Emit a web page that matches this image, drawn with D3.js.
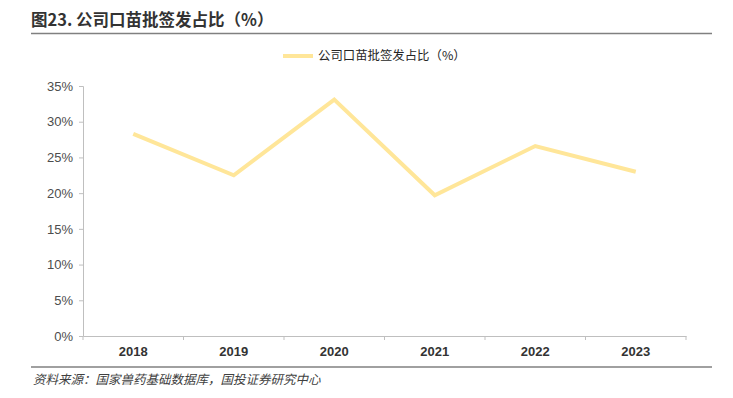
<!DOCTYPE html>
<html>
<head>
<meta charset="utf-8">
<script src="https://cdn.jsdelivr.net/npm/d3@7"></script>
<style>
  body { margin: 0; background: #fff; }
  svg { display: block; font-family: "Liberation Sans", Arial, sans-serif; }
</style>
</head>
<body>
<svg id="chart"></svg>
<script>
// data
const years = ["2018", "2019", "2020", "2021", "2022", "2023"];
const ratio = [28.3, 22.5, 33.1, 19.7, 26.6, 23.0];
const yTicks = [0, 5, 10, 15, 20, 25, 30, 35];

const title = "图23. 公司口苗批签发占比（%）";
const seriesName = "公司口苗批签发占比（%）";
const source = "资料来源：国家兽药基础数据库，国投证券研究中心";

const width = 733, height = 398;
const margin = { top: 86, right: 47, bottom: 62, left: 83 };
const innerWidth = width - margin.left - margin.right;
const innerHeight = height - margin.top - margin.bottom;

const svg = d3.select("#chart").attr("width", width).attr("height", height);
const cjk = '"Noto Sans CJK SC", "Noto Sans", sans-serif';

// title + rules
svg.append("text").attr("x", 31).attr("y", 26).text(title)
  .attr("font-family", cjk).attr("font-size", 16.5).attr("font-weight", "bold").attr("fill", "#333");
svg.append("line").attr("x1", 31).attr("x2", 712).attr("y1", 33.5).attr("y2", 33.5)
  .attr("stroke", "#808080").attr("stroke-width", 1.5);
svg.append("line").attr("x1", 31).attr("x2", 712).attr("y1", 367).attr("y2", 367)
  .attr("stroke", "#808080").attr("stroke-width", 1.5);
svg.append("text").attr("x", 33).attr("y", 384).text(source)
  .attr("font-family", cjk).attr("font-size", 12.5).attr("font-style", "italic").attr("fill", "#404040");

// legend
const legend = svg.append("g").attr("transform", "translate(283, 56)");
legend.append("line").attr("x1", 0).attr("x2", 30).attr("stroke", "#FFE699").attr("stroke-width", 4);
legend.append("text").attr("x", 35).attr("dy", "0.35em").text(seriesName)
  .attr("font-family", cjk).attr("font-size", 12.4).attr("fill", "#262626");

const g = svg.append("g").attr("transform", `translate(${margin.left}, ${margin.top})`);

const x = d3.scaleBand().domain(years).range([0, innerWidth]);
const y = d3.scaleLinear().domain([0, 35]).range([innerHeight, 0]);

const yAxis = g.append("g").call(d3.axisLeft(y).tickValues(yTicks).tickSize(4).tickPadding(6).tickFormat(d => d + "%"));
const xAxis = g.append("g").attr("transform", `translate(0, ${innerHeight})`)
  .call(d3.axisBottom(x).tickSize(0).tickPadding(11));

// category boundary ticks
g.selectAll(".bnd").data(d3.range(years.length + 1)).join("line").attr("class", "bnd")
  .attr("x1", i => i * x.step()).attr("x2", i => i * x.step())
  .attr("y1", innerHeight).attr("y2", innerHeight + 4)
  .attr("stroke", "#BFBFBF");

[yAxis, xAxis].forEach(a => {
  a.select(".domain").attr("stroke", "#BFBFBF");
  a.selectAll(".tick line").attr("stroke", "#BFBFBF");
  a.selectAll("text").attr("fill", "#4d4d4d").attr("font-size", 13);
});
xAxis.selectAll("text").attr("font-weight", "bold").attr("fill", "#333");

const line = d3.line().x((d, i) => x(years[i]) + x.bandwidth() / 2).y(d => y(d));
g.append("path").datum(ratio).attr("d", line)
  .attr("fill", "none").attr("stroke", "#FFE699").attr("stroke-width", 4).attr("stroke-linejoin", "miter");
</script>
</body>
</html>
